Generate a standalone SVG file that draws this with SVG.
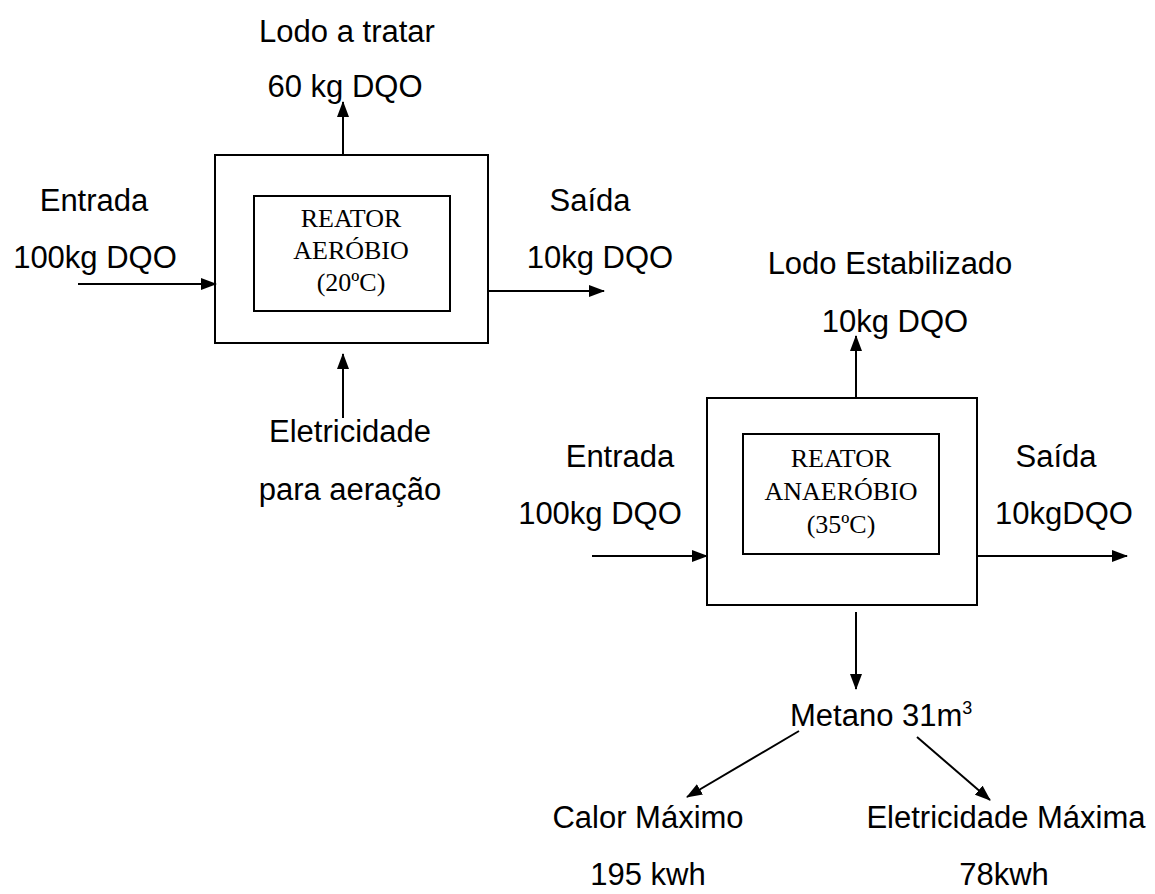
<svg xmlns="http://www.w3.org/2000/svg" width="1155" height="894" viewBox="0 0 1155 894">
<style>
.t{font-family:"Liberation Sans",Arial,sans-serif;font-size:31px;fill:#000;text-anchor:middle}
.r{font-family:"Liberation Serif","Times New Roman",serif;font-size:26px;fill:#000;text-anchor:middle}
.box{fill:none;stroke:#000;stroke-width:2}
.c{stroke:#000;stroke-width:2;fill:none;marker-end:url(#ah)}
</style>
<defs>
<marker id="ah" markerUnits="userSpaceOnUse" markerWidth="16" markerHeight="12" refX="15" refY="6" orient="auto">
<path d="M0,0 L16,6 L0,12 Z" fill="#000"/>
</marker>
</defs>
<g id="connectors">
<line class="c" x1="78" y1="284" x2="216" y2="284"/>
<line class="c" x1="488" y1="291" x2="604" y2="291"/>
<line class="c" x1="343" y1="155" x2="343" y2="102"/>
<line class="c" x1="343" y1="418" x2="343" y2="354"/>
<line class="c" x1="856" y1="398" x2="856" y2="336"/>
<line class="c" x1="592" y1="556" x2="707" y2="556"/>
<line class="c" x1="977" y1="556" x2="1127" y2="556"/>
<line class="c" x1="856" y1="612" x2="856" y2="689"/>
<line class="c" x1="799" y1="731" x2="687" y2="797"/>
<line class="c" x1="917" y1="737" x2="990" y2="800"/>
</g>
<g id="reator-aerobio">
<rect class="box" x="215" y="155" width="273" height="188"/>
<rect class="box" x="254" y="196" width="196" height="115"/>
<text class="r" x="351" y="227">REATOR</text>
<text class="r" x="351" y="259">AERÓBIO</text>
<text class="r" x="351" y="291">(20ºC)</text>
</g>
<g id="reator-anaerobio">
<rect class="box" x="707" y="398" width="270" height="207"/>
<rect class="box" x="743" y="434" width="196" height="120"/>
<text class="r" x="841" y="467">REATOR</text>
<text class="r" x="841" y="500">ANAERÓBIO</text>
<text class="r" x="841" y="533">(35ºC)</text>
</g>
<g id="lodo-tratar">
<text class="t" x="347" y="42">Lodo a tratar</text>
<text class="t" x="345" y="97">60 kg DQO</text>
</g>
<g id="entrada1">
<text class="t" x="94" y="211">Entrada</text>
<text class="t" x="95" y="268">100kg DQO</text>
</g>
<g id="saida1">
<text class="t" x="590" y="211">Saída</text>
<text class="t" x="600" y="268">10kg DQO</text>
</g>
<g id="eletricidade-aeracao">
<text class="t" x="350" y="442">Eletricidade</text>
<text class="t" x="350" y="500">para aeração</text>
</g>
<g id="lodo-estabilizado">
<text class="t" x="890" y="274">Lodo Estabilizado</text>
<text class="t" x="895" y="332">10kg DQO</text>
</g>
<g id="entrada2">
<text class="t" x="620" y="467">Entrada</text>
<text class="t" x="600" y="524">100kg DQO</text>
</g>
<g id="saida2">
<text class="t" x="1056" y="467">Saída</text>
<text class="t" x="1064" y="524">10kgDQO</text>
</g>
<g id="metano">
<text class="t" x="790" y="726" style="text-anchor:start">Metano 31m<tspan dy="-12" font-size="18">3</tspan></text>
</g>
<g id="calor">
<text class="t" x="648" y="828">Calor Máximo</text>
<text class="t" x="648" y="885">195 kwh</text>
</g>
<g id="eletricidade-max">
<text class="t" x="1006" y="828">Eletricidade Máxima</text>
<text class="t" x="1004" y="885">78kwh</text>
</g>
</svg>
